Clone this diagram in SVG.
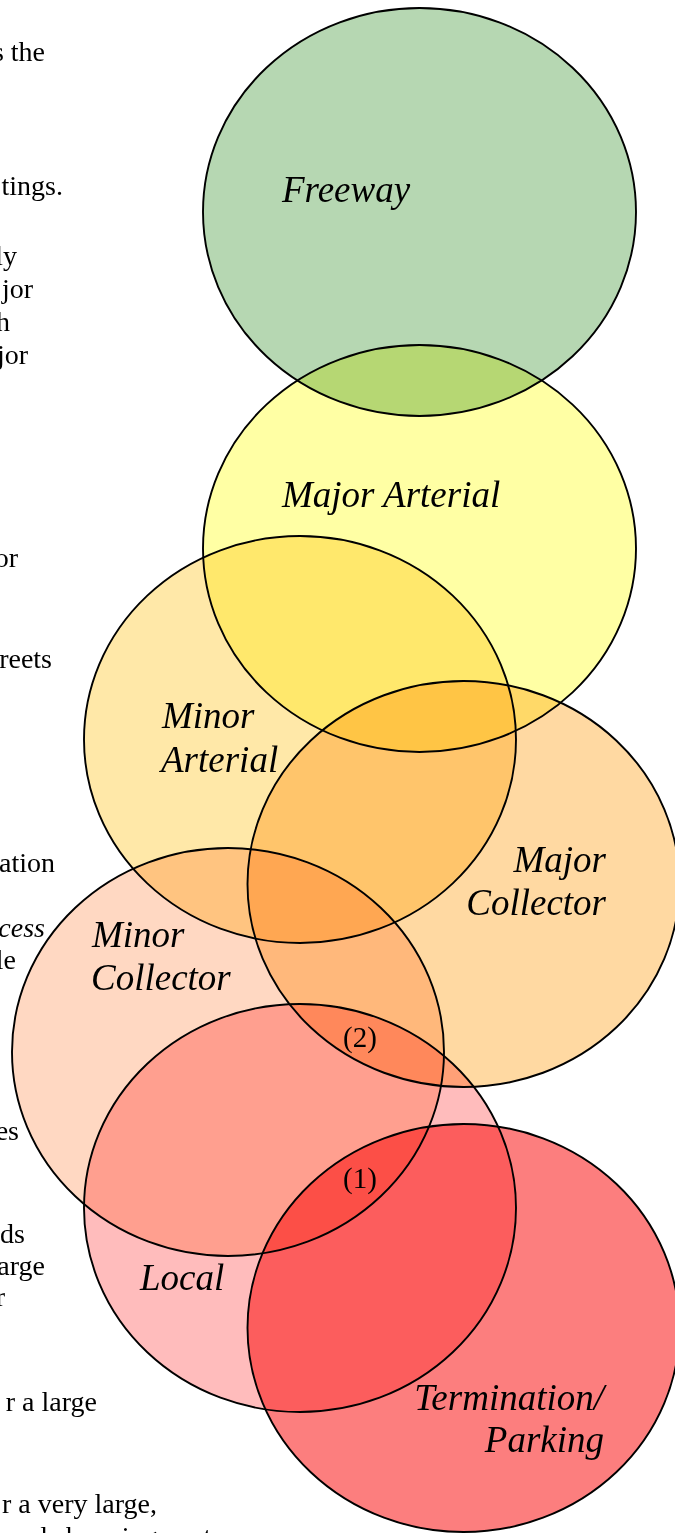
<svg xmlns="http://www.w3.org/2000/svg" width="675" height="1533" viewBox="0 0 675 1533">
<style>
.side{font-family:"Liberation Serif","Times New Roman",serif;font-size:28px;fill:#000;text-anchor:end}
.lbl{font-family:"Liberation Serif","Times New Roman",serif;font-size:37px;font-style:italic;fill:#000}
.num{font-family:"Liberation Serif","Times New Roman",serif;font-size:29px;fill:#000}
.c{stroke:#000;stroke-width:1.9;mix-blend-mode:multiply}
</style>
<rect width="675" height="1533" fill="#fff"/>
<g id="side-text">
<text class="side" x="45" y="61">s the</text>
<text class="side" x="63" y="195">tings.</text>
<text class="side" x="17" y="265">ly</text>
<text class="side" x="33" y="298">jor</text>
<text class="side" x="10" y="331">h</text>
<text class="side" x="28" y="364">jor</text>
<text class="side" x="18" y="567">or</text>
<text class="side" x="52" y="668">reets</text>
<text class="side" x="55" y="872">ation</text>
<text class="side" x="45" y="937" font-style="italic">cess</text>
<text class="side" x="16" y="969">le</text>
<text class="side" x="19" y="1140">es</text>
<text class="side" x="25" y="1243">ds</text>
<text class="side" x="45" y="1275">arge</text>
<text class="side" x="5" y="1306">r</text>
<text class="side" x="97" y="1411">r a large</text>
<text class="side" x="157" y="1513">r a very large,</text>
<text class="side" x="233" y="1546">nal shopping center</text>
</g>
<g id="freeway"><ellipse class="c" cx="419.5" cy="212" rx="216.5" ry="204" fill="#b6d7b2"/></g>
<g id="major-arterial"><ellipse class="c" cx="419.5" cy="548.5" rx="216.5" ry="203.5" fill="#ffffa4"/></g>
<g id="minor-arterial"><ellipse class="c" cx="300" cy="739.5" rx="216" ry="203.5" fill="#ffe8a8"/></g>
<g id="major-collector"><ellipse class="c" cx="463.5" cy="884" rx="216" ry="203" fill="#ffd9a2"/></g>
<g id="minor-collector"><ellipse class="c" cx="228" cy="1052" rx="216" ry="204" fill="#ffd8c2"/></g>
<g id="local"><ellipse class="c" cx="300" cy="1208" rx="216" ry="204" fill="#ffbcbc"/></g>
<g id="termination"><ellipse class="c" cx="463.5" cy="1328" rx="216" ry="204" fill="#fc7e7e"/></g>
<g id="labels">
<text class="lbl" x="282" y="202">Freeway</text>
<text class="lbl" x="282" y="507">Major Arterial</text>
<text class="lbl" x="162" y="728">Minor</text>
<text class="lbl" x="161" y="772">Arterial</text>
<text class="lbl" x="606" y="872" text-anchor="end">Major</text>
<text class="lbl" x="606" y="915" text-anchor="end">Collector</text>
<text class="lbl" x="92" y="947">Minor</text>
<text class="lbl" x="91" y="990">Collector</text>
<text class="lbl" x="140" y="1290">Local</text>
<text class="lbl" x="604" y="1410" text-anchor="end">Termination/</text>
<text class="lbl" x="604" y="1452" text-anchor="end">Parking</text>
<text class="num" x="343" y="1047">(2)</text>
<text class="num" x="343" y="1188">(1)</text>
</g>
</svg>
